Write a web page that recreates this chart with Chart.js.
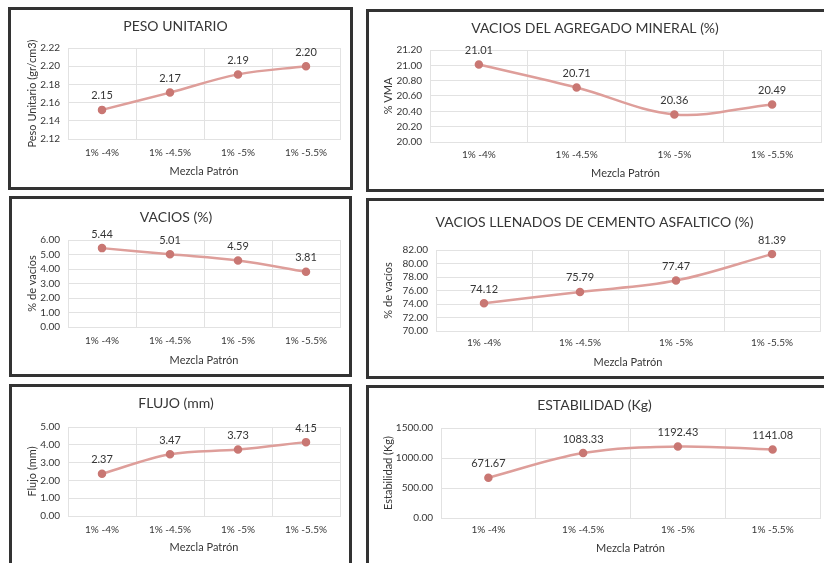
<!DOCTYPE html>
<html><head><meta charset="utf-8">
<script src="https://cdn.jsdelivr.net/npm/chart.js@4.4.1/dist/chart.umd.min.js"></script>
<style>
html,body{margin:0;padding:0;width:824px;height:563px;overflow:hidden;background:#fff;}
.frame{position:absolute;border:3px solid #333;box-sizing:border-box;background:#fff;}
canvas{position:absolute;}
</style></head><body>
<script>
// ---- data ----
const categories = ['1% -4%', '1% -4.5%', '1% -5%', '1% -5.5%'];
const pesoUnitario = [2.152, 2.171, 2.191, 2.200];
const vma = [21.01, 20.71, 20.36, 20.49];
const vacios = [5.44, 5.01, 4.59, 3.81];
const vfa = [74.12, 75.79, 77.47, 81.39];
const flujo = [2.37, 3.47, 3.73, 4.15];
const estabilidad = [671.67, 1083.33, 1192.43, 1141.08];

const xAxisTitle = 'Mezcla Patrón';
const chartTitles = ['PESO UNITARIO', 'VACIOS DEL AGREGADO MINERAL (%)', 'VACIOS (%)',
  'VACIOS LLENADOS DE CEMENTO ASFALTICO (%)', 'FLUJO (mm)', 'ESTABILIDAD (Kg)'];
const yTitles = ['Peso Unitario (gr/cm3)', '% VMA', '% de vacíos', '% de vacíos', 'Flujo (mm)', 'Estabilidad (Kg)'];
const yMins = [2.12, 20.00, 0, 70, 0, 0];
const yMaxs = [2.22, 21.20, 6, 82, 5, 1500];
const ySteps = [0.02, 0.20, 1, 2, 1, 500];
const seriesList = [pesoUnitario, vma, vacios, vfa, flujo, estabilidad];

// ---- layout (page pixel geometry) ----
const layouts = [
  {frame:[8,7,345,183],   canvas:[11,10,339,177],  plot:[68,48,340,139],  titleY:26,  xLabY:153, xTitleY:171, yTitleX:32},
  {frame:[366,9,480,183], canvas:[369,12,465,177], plot:[430,50,821,142], titleY:28,  xLabY:155, xTitleY:173, yTitleX:388},
  {frame:[9,196,343,181], canvas:[12,199,337,175], plot:[68,240,340,327], titleY:217, xLabY:341, xTitleY:360, yTitleX:32},
  {frame:[366,198,480,181],canvas:[369,201,465,175],plot:[436,250,820,331],titleY:222, xLabY:343, xTitleY:362, yTitleX:388},
  {frame:[9,384,343,200], canvas:[12,387,337,176], plot:[68,427,340,516], titleY:403, xLabY:530, xTitleY:547, yTitleX:32},
  {frame:[366,385,480,200],canvas:[369,388,465,175],plot:[441,428,820,518],titleY:405, xLabY:530, xTitleY:548, yTitleX:388}
];

const FONT = 'Lato, "Open Sans", sans-serif';
const TXT = '#363636';
const GRID = '#e2e2e2';
const LINE = '#de9e9a';
const MARK = '#c97773';

const labelPlugin = {
  id: 'pointLabels',
  afterDatasetsDraw(chart) {
    const ctx = chart.ctx;
    const meta = chart.getDatasetMeta(0);
    const ds = chart.data.datasets[0];
    ctx.save();
    ctx.font = '11px ' + FONT;
    ctx.fillStyle = TXT;
    ctx.textAlign = 'center';
    ctx.textBaseline = 'middle';
    meta.data.forEach((pt, i) => ctx.fillText(ds.data[i].toFixed(2), pt.x, pt.y - 14));
    ctx.restore();
  }
};

const titleSize = 14, tickSize = 10, axisSize = 11, LH = 1.2;

layouts.forEach((L, k) => {
  const f = document.createElement('div');
  f.className = 'frame';
  f.style.left = L.frame[0] + 'px'; f.style.top = L.frame[1] + 'px';
  f.style.width = L.frame[2] + 'px'; f.style.height = L.frame[3] + 'px';
  document.body.appendChild(f);

  const cv = document.createElement('canvas');
  const [cl, ct, cw, ch] = L.canvas;
  cv.width = cw; cv.height = ch;
  cv.style.left = cl + 'px'; cv.style.top = ct + 'px';
  cv.style.width = cw + 'px'; cv.style.height = ch + 'px';
  document.body.appendChild(cv);

  const [pl, pt, pr, pb] = L.plot;
  const tLH = titleSize * LH, kLH = tickSize * LH, aLH = axisSize * LH;
  const yW = pl - cl;
  const padR = cl + cw - pr;
  const xH = ct + ch - pb;
  const tPadTop = L.titleY - ct - tLH / 2;
  const tPadBot = pt - ct - tPadTop - tLH;
  const xTickPad = L.xLabY - pb - kLH / 2;
  const xTitlePad = ct + ch - L.xTitleY - aLH / 2;
  const yTitlePad = L.yTitleX - cl - aLH / 2;
  const yMin = yMins[k], yMax = yMaxs[k];

  new Chart(cv, {
    type: 'line',
    data: {
      labels: categories,
      datasets: [{
        data: seriesList[k],
        borderColor: LINE,
        borderWidth: 2.5,
        backgroundColor: MARK,
        pointBackgroundColor: MARK,
        pointBorderColor: MARK,
        pointRadius: 3,
        tension: 0.35,
        fill: false
      }]
    },
    options: {
      responsive: false,
      animation: false,
      devicePixelRatio: 1,
      layout: { padding: { left: 0, right: padR, top: 0, bottom: 0 } },
      plugins: {
        legend: { display: false },
        tooltip: { enabled: false },
        title: {
          display: true,
          text: chartTitles[k],
          color: TXT,
          font: { family: FONT, size: titleSize, weight: 'normal', lineHeight: LH },
          padding: { top: tPadTop, bottom: tPadBot }
        }
      },
      scales: {
        x: {
          type: 'category',
          offset: true,
          grid: { offset: true, color: GRID, drawTicks: false, lineWidth: 1 },
          border: { color: GRID },
          ticks: { color: TXT, font: { family: FONT, size: tickSize, lineHeight: LH }, padding: xTickPad, maxRotation: 0, autoSkip: false },
          title: { display: true, text: xAxisTitle, color: TXT, font: { family: FONT, size: axisSize, lineHeight: LH }, padding: { top: 0, bottom: xTitlePad } },
          afterFit(s) { s.height = xH; }
        },
        y: {
          min: yMin, max: yMax,
          grid: { color: GRID, drawTicks: false, lineWidth: 1 },
          border: { color: GRID },
          ticks: {
            stepSize: ySteps[k], color: TXT, padding: 8, autoSkip: false,
            font: { family: FONT, size: tickSize, lineHeight: LH },
            callback: v => Number(v).toFixed(2)
          },
          title: { display: true, text: yTitles[k], color: TXT, font: { family: FONT, size: axisSize, lineHeight: LH }, padding: { top: yTitlePad, bottom: 0 } },
          afterFit(s) { s.width = yW; }
        }
      }
    },
    plugins: [labelPlugin]
  });
});
</script>
</body></html>
